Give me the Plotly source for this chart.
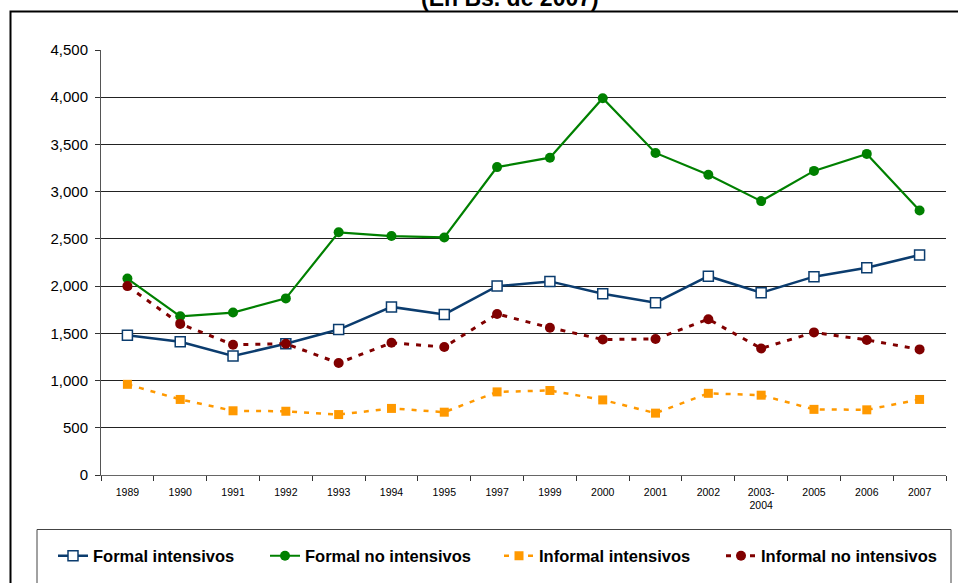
import plotly.graph_objects as go

categories = ["1989", "1990", "1991", "1992", "1993", "1994", "1995", "1997",
              "1999", "2000", "2001", "2002", "2003-<br>2004", "2005", "2006", "2007"]
formal_int = [1480, 1410, 1260, 1390, 1540, 1780, 1700, 2000,
              2050, 1920, 1825, 2105, 1930, 2100, 2195, 2330]
formal_no_int = [2080, 1680, 1720, 1870, 2570, 2530, 2515, 3260,
                 3360, 3990, 3410, 3180, 2900, 3220, 3400, 2800]
informal_int = [960, 800, 680, 675, 640, 705, 665, 880,
                895, 795, 655, 865, 845, 695, 690, 800]
informal_no_int = [2000, 1600, 1380, 1390, 1185, 1400, 1355, 1705,
                   1560, 1435, 1440, 1650, 1340, 1510, 1430, 1330]
y_ticks = [0, 500, 1000, 1500, 2000, 2500, 3000, 3500, 4000, 4500]

W, H = 958, 583
L, R, T, B = 101, 12, 50, 108
PW = W - L - R
PH = H - T - B


def px_x(p):
    return (p - L) / PW


def px_y(p):
    return (H - B - p) / PH


fig = go.Figure()
fig.add_trace(go.Scatter(
    x=categories, y=formal_int, name="Formal intensivos", mode="lines+markers",
    line=dict(color="#0B3C6E", width=2.5),
    marker=dict(symbol="square", size=10, color="white",
                line=dict(color="#0B3C6E", width=1.5)),
    legend="legend"))
fig.add_trace(go.Scatter(
    x=categories, y=formal_no_int, name="Formal no intensivos", mode="lines+markers",
    line=dict(color="#008000", width=2.2),
    marker=dict(symbol="circle", size=10, color="#008000"),
    legend="legend2"))
fig.add_trace(go.Scatter(
    x=categories, y=informal_int, name="Informal intensivos", mode="lines+markers",
    line=dict(color="#FF9900", width=2.5, dash="5px,7px"),
    marker=dict(symbol="square", size=9, color="#FF9900"),
    legend="legend3"))
fig.add_trace(go.Scatter(
    x=categories, y=informal_no_int, name="Informal no intensivos", mode="lines+markers",
    line=dict(color="#800000", width=3, dash="5px,7px"),
    marker=dict(symbol="circle", size=10, color="#800000"),
    legend="legend4"))

legend_font = dict(family="Liberation Sans, Arial, sans-serif", size=16.5,
                   color="black", weight="bold")


def leg(px_start):
    return dict(x=px_x(px_start), xanchor="left", y=px_y(556), yanchor="middle",
                orientation="h", font=legend_font, bgcolor="rgba(0,0,0,0)",
                borderwidth=0, itemclick=False)


fig.update_layout(
    width=W, height=H,
    margin=dict(l=L, r=R, t=T, b=B, autoexpand=False),
    paper_bgcolor="white", plot_bgcolor="white",
    font=dict(family="Liberation Sans, Arial, sans-serif", color="black"),
    showlegend=True,
    legend=leg(53), legend2=leg(265), legend3=leg(499), legend4=leg(721),
    xaxis=dict(
        type="category", tickson="boundaries", ticks="outside", ticklen=5,
        tickcolor="#333", showline=True, linecolor="#666", linewidth=1,
        showgrid=False, tickfont=dict(size=10.5), tickangle=0,
        ticklabelstandoff=7,
        range=[-0.5, len(categories) - 0.5],
    ),
    yaxis=dict(
        range=[0, 4500], tickvals=y_ticks, tickformat=",",
        ticks="outside", ticklen=5, tickcolor="#333",
        showline=True, linecolor="#555", linewidth=1,
        showgrid=True, gridcolor="#222", gridwidth=1,
        tickfont=dict(size=15), zeroline=False, ticklabelstandoff=4,
    ),
    shapes=[
        dict(type="rect", xref="paper", yref="paper",
             x0=px_x(10.5), x1=px_x(975), y0=px_y(620), y1=px_y(11.5),
             line=dict(color="black", width=2), fillcolor="rgba(0,0,0,0)", layer="below"),
        dict(type="rect", xref="paper", yref="paper",
             x0=px_x(37), x1=px_x(951), y0=px_y(620), y1=px_y(529.5),
             line=dict(color="#444", width=1), fillcolor="rgba(0,0,0,0)", layer="below"),
    ],
    annotations=[
        dict(text="<b>(En Bs. de 2007)</b>", xref="paper", yref="paper",
             x=px_x(510), y=px_y(-2), xanchor="center", yanchor="middle",
             showarrow=False, font=dict(size=23, color="black")),
    ],
)

fig.write_html(
    "out.html",
    config={"displayModeBar": False},
    post_script="document.body.style.margin='0';document.body.style.overflow='hidden';",
)
